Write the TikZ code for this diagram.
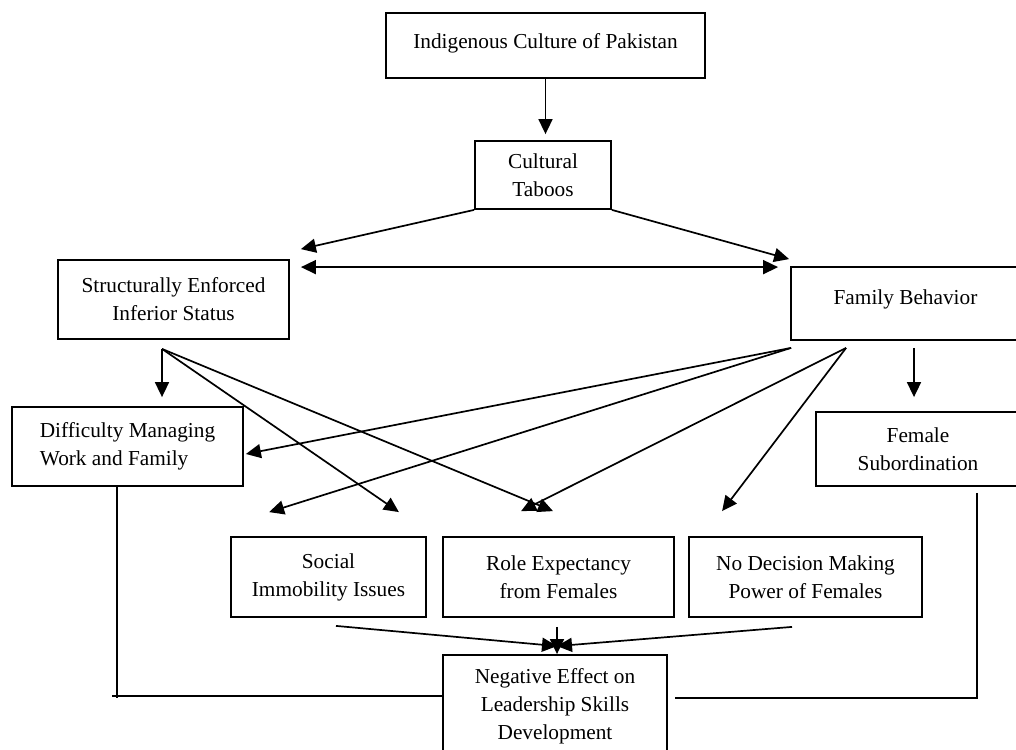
\documentclass[tikz,border=0pt]{standalone}
\usepackage{fontspec}
\setmainfont{Liberation Serif}
\usetikzlibrary{calc,arrows.meta}

\begin{document}
\begin{tikzpicture}[x=0.5pt,y=-0.5pt,
  box/.style={draw,line width=0.9pt,inner sep=0pt,align=center,font=\fontsize{10.65}{14}\selectfont},
  arr/.style={-{Triangle[length=7.5pt,width=7pt]},line width=0.85pt},
  arrs/.style={{Triangle[length=7.5pt,width=7pt]}-{Triangle[length=7.5pt,width=7pt]},line width=0.85pt},
  link/.style={line width=0.9pt}]
\useasboundingbox (0,0) rectangle (1016,749);

\node[box,minimum width=159.5pt,minimum height=32.5pt] (ind) at (545.5,45.5) {\raisebox{4.25pt}{Indigenous Culture of Pakistan}};
\node[box,minimum width=68pt,minimum height=34pt] (tab) at (543,175) {Cultural\\Taboos};
\node[box,minimum width=115.5pt,minimum height=39.5pt] (ses) at (173.5,299.5) {Structurally Enforced\\Inferior Status};
\node[box,minimum width=114.5pt,minimum height=36.5pt] (fam) at (905.5,303.5) {\raisebox{6.25pt}{Family Behavior}};
\node[box,align=left,minimum width=115.5pt,minimum height=39.5pt] (dif) at (127.5,446.5) {Difficulty Managing\\Work and Family};
\node[box,minimum width=102pt,minimum height=37pt] (fem) at (918,449) {Female\\Subordination};
\node[box,minimum width=97.5pt,minimum height=40pt] (soc) at (328.5,577) {Social\\Immobility Issues};
\node[box,minimum width=115.5pt,minimum height=40pt] (role) at (558.5,577) {Role Expectancy\\from Females};
\node[box,minimum width=116.5pt,minimum height=40pt] (nod) at (805.5,577) {No Decision Making\\Power of Females};
\node[box,minimum width=112pt,minimum height=51.5pt] (neg) at (555,706.5) {Negative Effect on\\Leadership Skills\\Development};

\coordinate (seshub) at ($(ses.south)+(-11.5,9)$);
\coordinate (famhubA) at ($(fam.south west)+(1,7)$);
\coordinate (famhubB) at ($(fam.south west)+(56,7)$);
\coordinate (famdown) at ($(fam.south)+(8.5,7)$);
\coordinate (roledown) at ($(role.south)+(-1.5,9)$);
\coordinate (dl) at ($(ses.north east)+(11,8)$);
\coordinate (dr) at ($(fam.north west)+(-12,0)$);
\coordinate (negtip) at ($(neg.north)+(2,-8)$);
\coordinate (difdown) at ($(dif.south)+(-10.5,0)$);
\coordinate (femdown) at ($(fem.south)+(59,6)$);

\draw[arr,shorten >=3pt] (ind.south) -- (ind.south |- tab.north);
\draw[arr] (tab.south west) -- ($(ses.north east)+(11,-10)$);
\draw[arr] (tab.south east) -- ($(fam.north west)+(-1,-7)$);
\draw[arrs] (dl) -- (dl -| dr);

\draw[arr,shorten >=4.5pt] (seshub) -- (seshub |- dif.north);
\draw[arr] (seshub) -- ($(soc.north east)+(-28,-24)$);
\draw[arr] (seshub) -- ($(role.north)+(-5.5,-25)$);

\draw[arr] (famhubA) -- ($(dif.east)+(2,7.5)$);
\draw[arr] (famhubA) -- ($(soc.north west)+(39,-24)$);
\draw[arr] (famhubB) -- ($(role.north west)+(79,-25)$);
\draw[arr] (famhubB) -- ($(nod.north west)+(34,-25)$);
\draw[arr,shorten >=7pt] (famdown) -- (famdown |- fem.north);

\draw[arr] ($(soc.south)+(7.5,8)$) -- (negtip);
\draw[arr] ($(nod.south)+(-13.5,9)$) -- (negtip);
\draw[arr] (roledown) -- (roledown |- neg.north);

\draw[link] (difdown) -- ++(0,211);
\draw[link] ($(neg.north west)+(-330,42)$) -- ($(neg.north west)+(0,42)$);
\draw[link] (femdown) |- ($(neg.north east)+(7,44)$);
\end{tikzpicture}
\end{document}
